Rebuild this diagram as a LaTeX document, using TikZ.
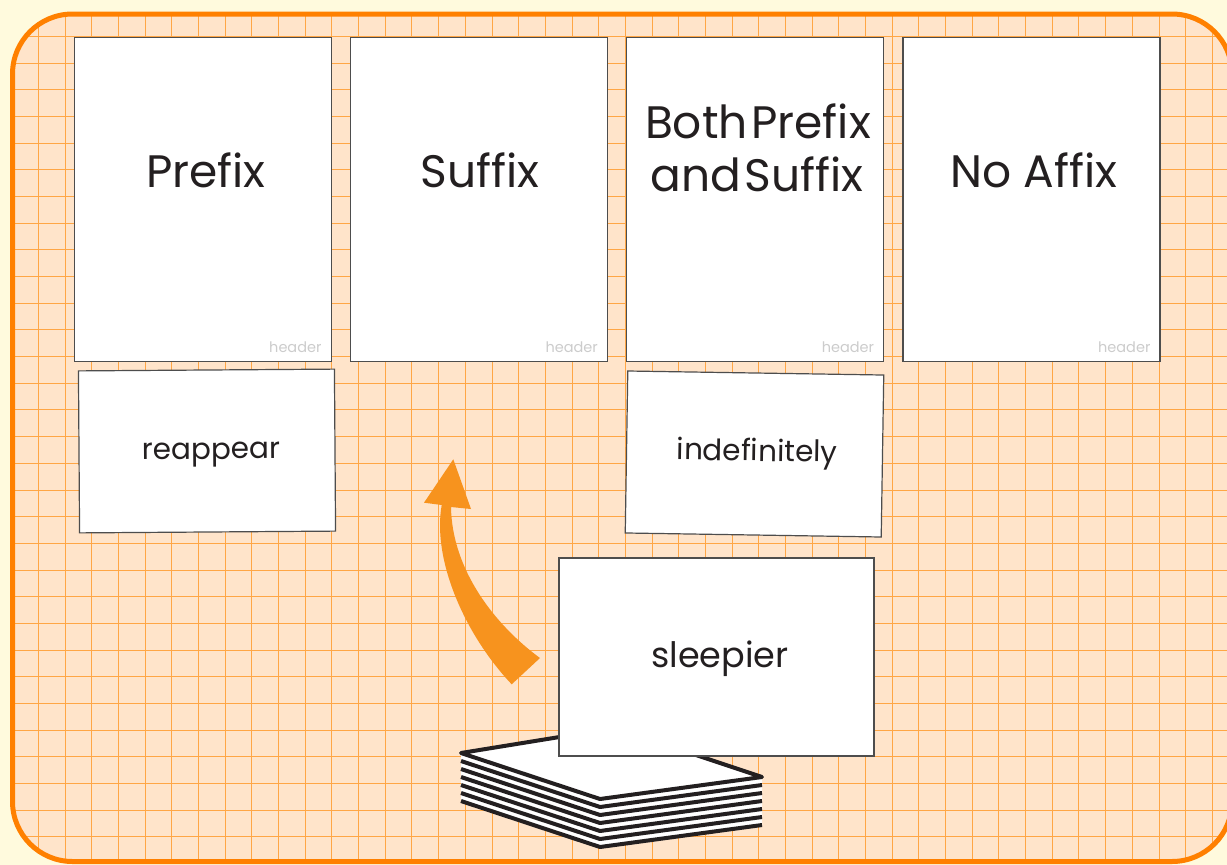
\documentclass[tikz,border=0pt]{standalone}
\usepackage{fontspec}
\setmainfont{Poppins}
\definecolor{bgout}{HTML}{FFFADD}
\definecolor{bgin}{HTML}{FFE4CA}
\definecolor{gridc}{HTML}{FFA645}
\definecolor{framec}{HTML}{FF8000}
\definecolor{ink}{HTML}{231F20}
\definecolor{cardline}{HTML}{4D4D4D}
\definecolor{arrowc}{HTML}{F7931E}
\definecolor{hdrc}{HTML}{CCCCCC}
\begin{document}
\begin{tikzpicture}[x=1pt,y=-1pt,
  topcard/.style={draw=cardline,line width=1.2pt,fill=white,minimum width=257pt,minimum height=324pt,inner sep=0pt,anchor=north west},
  lowcard/.style={draw=cardline,line width=1.2pt,fill=white,minimum width=256pt,minimum height=162pt,inner sep=0pt},
  bigcard/.style={draw=cardline,line width=1.2pt,fill=white,minimum width=315pt,minimum height=198pt,inner sep=0pt},
  title/.style={text=ink,font=\fontsize{45.5}{50}\selectfont,inner sep=0pt,anchor=base},
  word/.style={text=ink,font=\fontsize{29.5}{34}\selectfont,inner sep=0pt,anchor=base},
  hdr/.style={text=hdrc,font=\fontsize{14.5}{16}\selectfont,inner sep=0pt,anchor=base east},
  gridline/.style={gridc,line width=1.4pt},
  stackline/.style={draw=ink,line width=4pt,line join=round},
]
\useasboundingbox (0,0) rectangle (1227,865);
\fill[bgout] (0,0) rectangle (1227,865);
% panel
\begin{scope}
  \clip[rounded corners=60pt] (12.5,14) rectangle (1232,861.5);
  \fill[bgin] (0,0) rectangle (1240,870);
  \foreach \i in {0,...,46} {
    \draw[gridline] ({round(11.3+26.68*\i)+0.5},0) -- ({round(11.3+26.68*\i)+0.5},870);
  }
  \foreach \j in {0,...,32} {
    \draw[gridline] (0,{round(9.3+26.68*\j)+0.5}) -- (1240,{round(9.3+26.68*\j)+0.5});
  }
\end{scope}
\draw[framec,line width=5pt,rounded corners=60pt] (12.5,14) rectangle (1232,861.5);
% top cards
\node[topcard] (c1) at (73.5,36.5) {};
\node[topcard] (c2) at (349.8,36.5) {};
\node[topcard] (c3) at (626.1,36.5) {};
\node[topcard] (c4) at (902.4,36.5) {};
\node[title] (t1) at (206,187) {Prefix};
\node[title] (t2) at (480,187) {Suffix};
\node[title] (t3a) at (758,138) {Both\hspace{0.08em}Prefix};
\node[title] (t3b) at (757,191) {and\hspace{0.08em}Suffix};
\node[title] (t4) at (1034,187) {No Affix};
\foreach \c in {c1,c2,c3,c4} {
  \node[hdr] at ([xshift=-10pt,yshift=9pt]\c.south east) {header};
}
% lower cards
\node[lowcard,rotate=0.4] (r1) at (207,451) {};
\node[word,rotate=0.4] (w1) at (211,459) {reappear};
\node[lowcard,rotate=-0.9] (r3) at (754.5,454) {};
\node[word,rotate=-0.9] (w3) at (757,461) {indefinitely};
% arrow
\fill[arrowc] (453.3,459.3) -- (471,509) -- (451,507)
  .. controls (452,570) and (495,625) .. (540,658)
  -- (511.7,684.3)
  .. controls (465,635) and (432,560) .. (441.7,505)
  -- (424,502.7) -- cycle;
% card stack
\coordinate (sa) at (461,753);
\coordinate (sb) at (600,799);
\coordinate (sc) at (762,777);
\coordinate (sd) at (615,728);
\fill[white] (sa) -- (sb) -- (sc) -- ([yshift=-48pt]sc) -- ([yshift=-48pt]sb) -- ([yshift=-48pt]sa) -- cycle;
\foreach \k in {1,...,6} {
  \draw[stackline] ([yshift=-8*\k pt]sa) -- ([yshift=-8*\k pt]sb) -- ([yshift=-8*\k pt]sc);
}
\draw[stackline,fill=white] (sa) -- (sb) -- (sc) -- (sd) -- cycle;
% current card
\node[bigcard] (s1) at (716.5,657) {};
\node[word,font=\fontsize{35}{40}\selectfont] (w5) at (720,667) {sleepier};
\end{tikzpicture}
\end{document}
